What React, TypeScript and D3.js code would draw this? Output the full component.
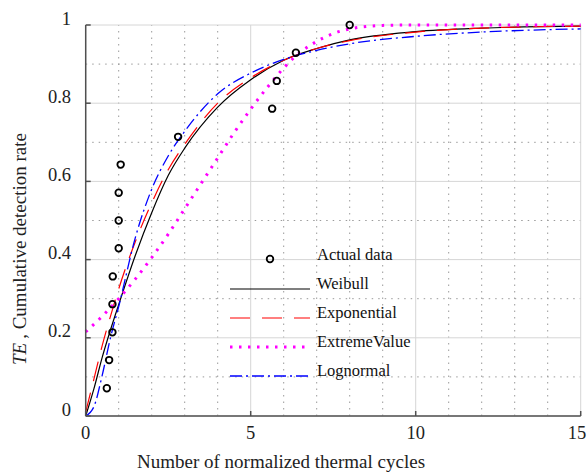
import React from "react";
import * as d3 from "d3";

// tick values
const xTicks = [0, 5, 10, 15];
const xMinor = [1, 2, 3, 4, 6, 7, 8, 9, 11, 12, 13, 14];
const yTicks = [0, 0.2, 0.4, 0.6, 0.8, 1];
const yTickLabels = ["0", "0.2", "0.4", "0.6", "0.8", "1"];
const yMinor = [0.1, 0.3, 0.5, 0.7, 0.9];

// actual data (circles)
const actualX = [0.64, 0.71, 0.81, 0.81, 0.82, 1.0, 1.0, 1.0, 1.06, 2.8, 5.65, 5.79, 6.37, 8.0];
const actualY = [0.071, 0.143, 0.214, 0.286, 0.357, 0.429, 0.5, 0.571, 0.643, 0.714, 0.786, 0.857, 0.929, 1.0];

// fitted curves
const curveX = [0, 0.25, 0.5, 0.75, 1, 1.5, 2, 2.5, 3, 4, 5, 6, 7, 8, 10, 12, 15];
const weibullY = [0, 0.07, 0.15, 0.22, 0.285, 0.41, 0.52, 0.615, 0.685, 0.79, 0.86, 0.91, 0.94, 0.962, 0.983, 0.992, 0.997];
const exponentialY = [0.01, 0.095, 0.18, 0.255, 0.325, 0.445, 0.545, 0.63, 0.695, 0.8, 0.865, 0.91, 0.94, 0.96, 0.982, 0.992, 0.997];
const lognormalY = [0, 0.024, 0.104, 0.2, 0.28, 0.455, 0.58, 0.665, 0.728, 0.824, 0.877, 0.912, 0.935, 0.952, 0.971, 0.982, 0.99];

const extremeX = [0, 0.5, 1, 1.5, 2, 2.5, 3, 3.5, 4, 4.5, 5, 5.5, 6, 6.5, 7, 7.5, 8, 8.5, 9, 10, 15];
const extremeY = [0.215, 0.255, 0.3, 0.35, 0.405, 0.465, 0.53, 0.595, 0.66, 0.725, 0.785, 0.84, 0.89, 0.93, 0.958, 0.978, 0.99, 0.996, 0.999, 1, 1];

const legendNames = ["Actual data", "Weibull", "Exponential", "ExtremeValue", "Lognormal"];

const W = 587;
const H = 473;
const serif = "'Liberation Serif', 'Times New Roman', serif";

export default function App() {
  const x = d3.scaleLinear().domain([0, 15]).range([85.7, 580.7]);
  const y = d3.scaleLinear().domain([0, 1]).range([416, 25]);

  const line = d3
    .line<[number, number]>()
    .x((d) => x(d[0]))
    .y((d) => y(d[1]))
    .curve(d3.curveMonotoneX);

  const zip = (xs: number[], ys: number[]) => xs.map((v, i) => [v, ys[i]] as [number, number]);

  const series = [
    { name: "Weibull", d: line(zip(curveX, weibullY)), stroke: "#000", width: 1.2, dash: "none" },
    { name: "Exponential", d: line(zip(curveX, exponentialY)), stroke: "#ff0000", width: 1.2, dash: "20,12" },
    { name: "ExtremeValue", d: line(zip(extremeX, extremeY)), stroke: "#ff00ff", width: 3, dash: "2.5,6.5" },
    { name: "Lognormal", d: line(zip(curveX, lognormalY)), stroke: "#0000ff", width: 1.3, dash: "12,4,2,4" },
  ];

  const [x0, x1] = x.range();
  const [y0, y1] = y.range();

  const legendY = [260, 289, 318, 347, 376];

  return (
    <svg width={W} height={H} style={{ position: "absolute", left: 0, top: 0, background: "#fff" }}>
      {/* minor grid */}
      <g stroke="#9a9a9a" strokeWidth={1} strokeDasharray="1.5,5">
        {xMinor.map((t) => (
          <line key={"xm" + t} x1={x(t)} x2={x(t)} y1={y0} y2={y1} />
        ))}
        {yMinor.map((t) => (
          <line key={"ym" + t} x1={x0} x2={x1} y1={y(t)} y2={y(t)} />
        ))}
      </g>
      {/* major grid */}
      <g stroke="#d6d6d6" strokeWidth={1}>
        {xTicks.map((t) => (
          <line key={"xg" + t} x1={x(t)} x2={x(t)} y1={y0} y2={y1} />
        ))}
        {yTicks.map((t) => (
          <line key={"yg" + t} x1={x0} x2={x1} y1={y(t)} y2={y(t)} />
        ))}
      </g>

      {/* curves */}
      {series.map((s) => (
        <path key={s.name} d={s.d || ""} fill="none" stroke={s.stroke} strokeWidth={s.width} strokeDasharray={s.dash} />
      ))}

      {/* actual data */}
      {actualX.map((v, i) => (
        <circle key={i} cx={x(v)} cy={y(actualY[i])} r={3.3} fill="none" stroke="#000" strokeWidth={1.8} />
      ))}

      {/* axes */}
      <g stroke="#505050" strokeWidth={1.5}>
        <line x1={x0} x2={x0} y1={y0} y2={y1} />
        <line x1={x0} x2={x1} y1={y0} y2={y0} />
        {yTicks.map((t) => (
          <line key={"yt" + t} x1={x0} x2={x0 + 5} y1={y(t)} y2={y(t)} />
        ))}
        {xTicks.map((t) => (
          <line key={"xt" + t} x1={x(t)} x2={x(t)} y1={y0} y2={y0 - 5} />
        ))}
      </g>

      {/* tick labels */}
      <g fontFamily={serif} fontSize={18.5} fill="#222">
        {yTicks.map((t, i) => (
          <text key={"yl" + t} x={71} y={y(t) - 0.5} textAnchor="end">
            {yTickLabels[i]}
          </text>
        ))}
        {xTicks.map((t) => (
          <text key={"xl" + t} x={Math.min(x(t), W - 10)} y={439} textAnchor="middle">
            {t}
          </text>
        ))}
      </g>
      <g fontFamily={serif} fontSize={19} fill="#222">
        <text x={137} y={468}>Number of normalized thermal cycles</text>
        <text transform="translate(26,365) rotate(-90)">
          <tspan fontStyle="italic">TE</tspan>
          <tspan dx={4}>, Cumulative detection rate</tspan>
        </text>
      </g>

      {/* legend */}
      <g fontFamily={serif} fontSize={16.5} fill="#111">
        <circle cx={270} cy={legendY[0] - 1} r={3.3} fill="none" stroke="#000" strokeWidth={1.8} />
        {series.map((s, i) => (
          <line
            key={"lg" + s.name}
            x1={230}
            x2={s.name === "ExtremeValue" ? 305 : 310}
            y1={legendY[i + 1]}
            y2={legendY[i + 1]}
            stroke={s.stroke}
            strokeWidth={s.width}
            strokeDasharray={s.dash}
          />
        ))}
        {legendNames.map((n, i) => (
          <text key={n} x={317} y={legendY[i]}>
            {n}
          </text>
        ))}
      </g>
    </svg>
  );
}
